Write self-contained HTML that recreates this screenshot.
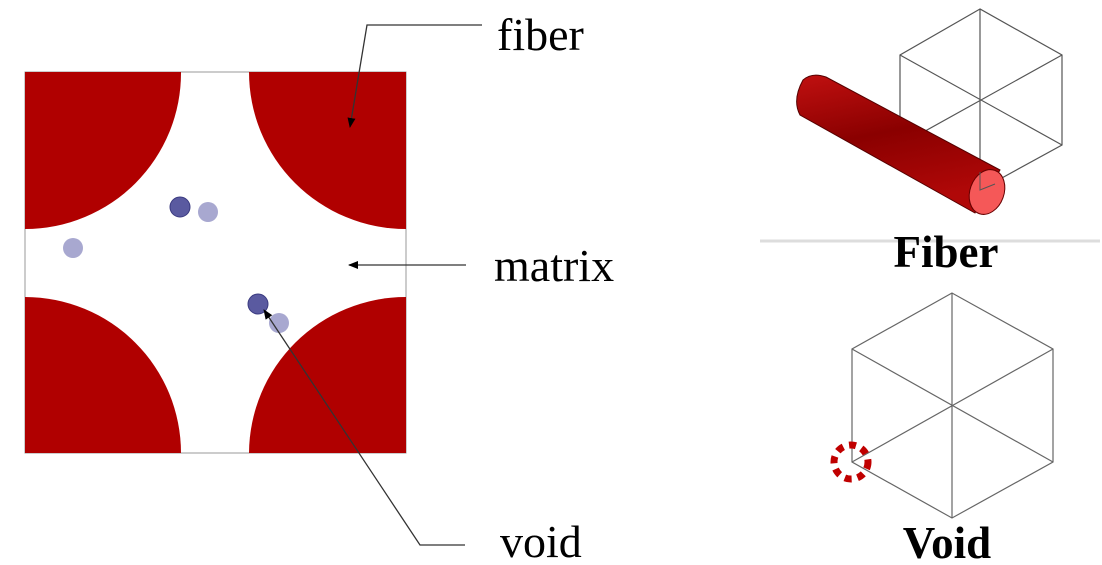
<!DOCTYPE html>
<html><head><style>body{margin:0;background:#fff}svg{display:block}</style></head><body>
<svg width="1102" height="565" viewBox="0 0 1102 565" xmlns="http://www.w3.org/2000/svg">
<defs>
<marker id="ah" markerWidth="10" markerHeight="8" refX="9" refY="4" orient="auto" markerUnits="userSpaceOnUse"><path d="M0,0 L10,4 L0,8 z" fill="#000"/></marker>
<linearGradient id="cyl" x1="0" y1="0" x2="0.3" y2="1"><stop offset="0" stop-color="#c01010"/><stop offset="0.5" stop-color="#8a0000"/><stop offset="1" stop-color="#b00808"/></linearGradient>
</defs>
<rect x="25" y="72" width="381" height="381" fill="#fff" stroke="#999" stroke-width="1"/>
<path d="M25,72 H181 A156,156 0 0 1 25,229 Z" fill="#b00000"/>
<path d="M406,72 H249 A157,157 0 0 0 406,229 Z" fill="#b00000"/>
<path d="M25,453 H181 A156,156 0 0 0 25,297 Z" fill="#b00000"/>
<path d="M406,453 H249 A157,157 0 0 1 406,297 Z" fill="#b00000"/>
<circle cx="208" cy="212" r="10" fill="#a8a8d0"/>
<circle cx="180" cy="207" r="10" fill="#5a5aa0" stroke="#3a3a80"/>
<circle cx="73" cy="248" r="10" fill="#a8a8d0"/>
<circle cx="279" cy="323" r="10" fill="#a8a8d0"/>
<circle cx="258" cy="304" r="10" fill="#5a5aa0" stroke="#3a3a80"/>
<polyline points="482,25 367,25 350,127" fill="none" stroke="#333" stroke-width="1.3" marker-end="url(#ah)"/>
<line x1="466" y1="265" x2="349" y2="265" stroke="#333" stroke-width="1.3" marker-end="url(#ah)"/>
<polyline points="465,545 420,545 264,310" fill="none" stroke="#333" stroke-width="1.3" marker-end="url(#ah)"/>
<g font-family="Liberation Serif,serif" font-size="46" fill="#000">
<text x="497" y="50">fiber</text>
<text x="494" y="281">matrix</text>
<text x="500" y="557">void</text>
</g>
<g stroke="#555" stroke-width="1.2" fill="none">
<path d="M980,9 L900,55 L900,145 L980,190 L1062,145 L1062,55 Z"/>
<path d="M980,9 V190 M900,55 L1062,145 M1062,55 L900,145"/>
</g>
<path d="M803,80 Q812,72 826,77 L1000,170 L975,213 L800,115 Q792,100 803,80 Z" fill="url(#cyl)" stroke="#500" stroke-width="1"/>
<ellipse cx="987" cy="192" rx="17" ry="23" transform="rotate(20 987 192)" fill="#f55858" stroke="#600"/>
<path d="M980,172 V190 L995,184" fill="none" stroke="#555"/>
<line x1="760" y1="241" x2="1100" y2="241" stroke="#ddd" stroke-width="3"/>
<g stroke="#666" stroke-width="1.2" fill="none">
<path d="M952,293 L852,349 L852,462 L952,518 L1053,462 L1053,349 Z"/>
<path d="M952,293 V518 M852,349 L1053,462 M1053,349 L852,462"/>
</g>
<circle cx="851" cy="462" r="17" fill="none" stroke="#c00000" stroke-width="7" stroke-dasharray="7 6"/>
<g font-family="Liberation Serif,serif" font-size="45" font-weight="bold" fill="#000" text-anchor="middle">
<text x="946" y="267">Fiber</text>
<text x="947" y="558">Void</text>
</g>
</svg>
</body></html>
